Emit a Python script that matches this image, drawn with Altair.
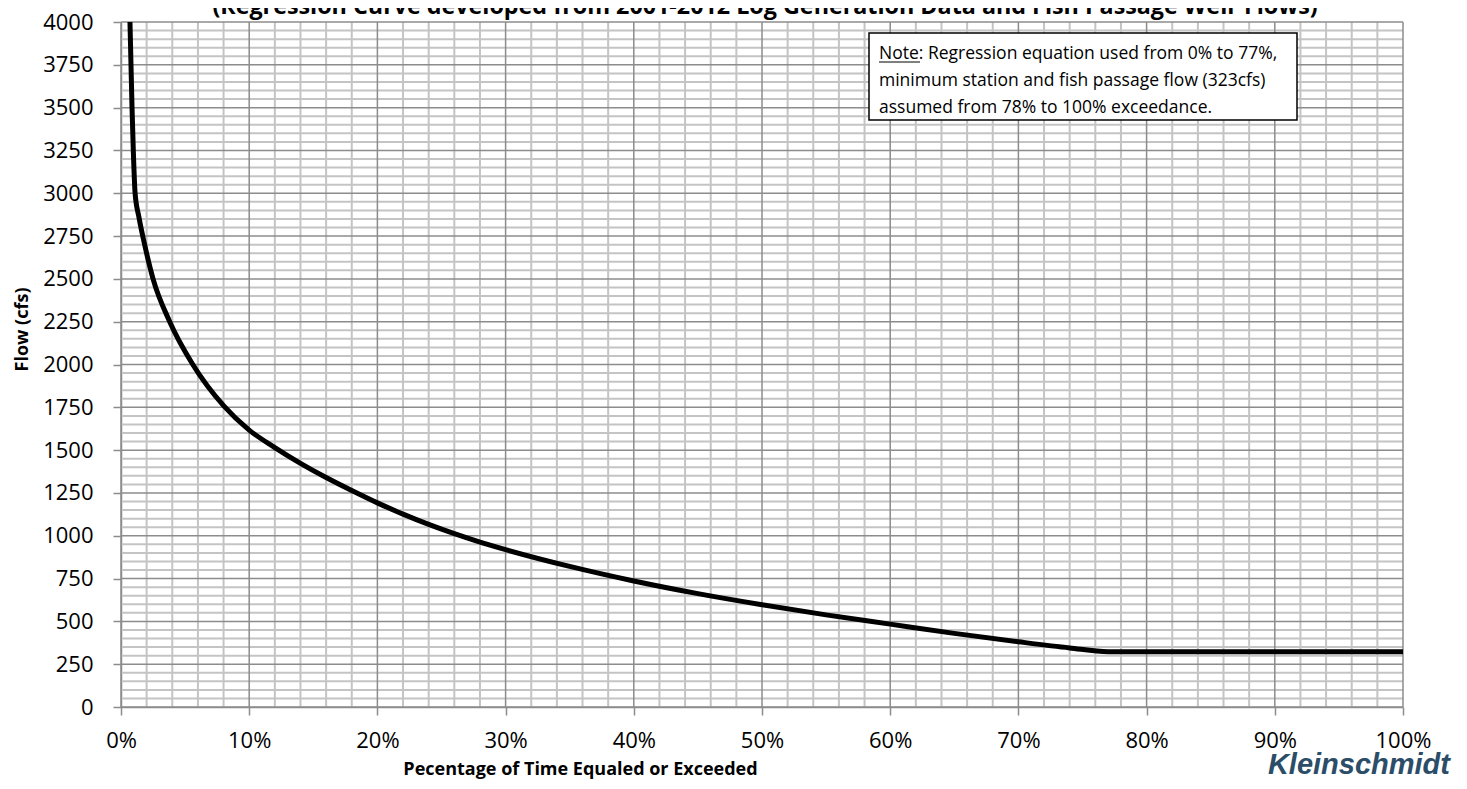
import altair as alt
import pandas as pd

# ---- data ----
pct = [0.70, 0.78, 0.86, 0.96, 1.1, 1.4, 1.8, 2.5, 3.8, 5.6, 8.0, 10, 12, 14, 16, 18,
       20, 22, 24, 26, 28, 30, 35, 40, 45, 50, 55, 60, 65, 70, 74, 77, 100]
flow = [4000, 3750, 3500, 3250, 3000, 2860, 2715, 2500, 2250, 2000, 1760, 1617, 1515, 1423,
        1340, 1264, 1192, 1126, 1066, 1012, 963, 919, 821, 736, 662, 597, 538, 484, 430,
        381, 345, 323, 323]

x_ticks = [i / 10 for i in range(11)]
y_ticks = list(range(0, 4001, 250))
x_minor = [i / 100 for i in range(0, 101, 2) if i % 10 != 0]
y_minor = [v for v in range(0, 4001, 50) if v % 250 != 0]

title_text = "(Regression Curve developed from 2001-2012 Log Generation Data and Fish Passage Weir Flows)"
note_lines = ["Note: Regression equation used  from 0% to 77%,",
              "minimum station and fish passage flow  (323cfs)",
              "assumed from 78% to 100% exceedance."]
x_title = "Pecentage of Time Equaled or Exceeded"
y_title = "Flow (cfs)"
logo = "Kleinschmidt"

W, H = 1282, 685
FONT = "Open Sans"

curve = pd.DataFrame({"pct": [p / 100 for p in pct], "flow": flow})

xs = alt.Scale(domain=[0, 1], nice=False, zero=False)
ys = alt.Scale(domain=[0, 4000], nice=False)

xaxis = alt.Axis(values=x_ticks, format=".0%", grid=False, domainColor="#8c8c8c",
                 domainWidth=1.5, tickColor="#8c8c8c", tickWidth=1.5, tickSize=8,
                 labelFont=FONT, labelFontSize=22, labelColor="#000", labelPadding=15,
                 labelFlush=False,
                 title=x_title, titleFont=FONT, titleFontSize=18, titleFontWeight="bold",
                 titleColor="#000", titleX=459, titleY=62, titleAlign="center",
                 titleBaseline="middle")
yaxis = alt.Axis(values=y_ticks, format="d", grid=False, domainColor="#8c8c8c",
                 domainWidth=1.5, tickColor="#8c8c8c", tickWidth=1.5, tickSize=8,
                 labelFont=FONT, labelFontSize=22, labelColor="#000", labelPadding=20,
                 labelFlush=False,
                 title=y_title, titleFont=FONT, titleFontSize=18, titleFontWeight="bold",
                 titleColor="#000", titleAngle=270, titleX=-99, titleY=307,
                 titleAlign="center", titleBaseline="middle")

X = alt.X("pct:Q", scale=xs, axis=xaxis)
Y = alt.Y("flow:Q", scale=ys, axis=yaxis)

minor_x = alt.Chart(pd.DataFrame({"pct": x_minor})).mark_rule(
    color="#c4c4c4", strokeWidth=2).encode(x=X)
minor_y = alt.Chart(pd.DataFrame({"flow": y_minor})).mark_rule(
    color="#c4c4c4", strokeWidth=2).encode(y=Y)
major_x = alt.Chart(pd.DataFrame({"pct": x_ticks})).mark_rule(
    color="#8c8c8c", strokeWidth=1.5).encode(x=X)
major_y = alt.Chart(pd.DataFrame({"flow": y_ticks})).mark_rule(
    color="#8c8c8c", strokeWidth=1.5).encode(y=Y)

line = alt.Chart(curve).mark_line(color="#000", strokeWidth=5,
                                  interpolate="monotone").encode(x=X, y=Y)

one = pd.DataFrame({"a": [0]})
note_box = alt.Chart(one).mark_rect(fill="white", stroke="#000", strokeWidth=1.5).encode(
    x=alt.value(748), x2=alt.value(1176), y=alt.value(11), y2=alt.value(98))
note_txt = alt.Chart(one).mark_text(
    align="left", baseline="alphabetic", font=FONT, fontSize=17.5, color="#000",
    lineBreak="\n", lineHeight=27).encode(
    x=alt.value(758), y=alt.value(37), text=alt.value("\n".join(note_lines)))
note_ul = alt.Chart(one).mark_rule(color="#000", strokeWidth=1).encode(
    x=alt.value(758), x2=alt.value(799), y=alt.value(40))

title = alt.Chart(one).mark_text(
    align="center", baseline="alphabetic", font=FONT, fontSize=23.3, fontWeight="bold",
    color="#000").encode(x=alt.value(644), y=alt.value(-8),
                         text=alt.value(title_text))
logo_txt = alt.Chart(one).mark_text(
    align="right", baseline="alphabetic", font="Liberation Sans", fontSize=29,
    fontWeight="bold", fontStyle="italic", color="#2b4d68").encode(
    x=alt.value(1329), y=alt.value(752), text=alt.value(logo))

chart = alt.layer(minor_x, minor_y, major_x, major_y, line, note_box, note_txt, note_ul,
                  title, logo_txt).properties(
    width=W, height=H,
    autosize=alt.AutoSizeParams(type="none"),
    padding={"left": 113, "top": 14, "right": 56, "bottom": 74},
).configure_view(stroke=None)

chart.save("out.html", embed_options={"renderer": "svg", "actions": False})
